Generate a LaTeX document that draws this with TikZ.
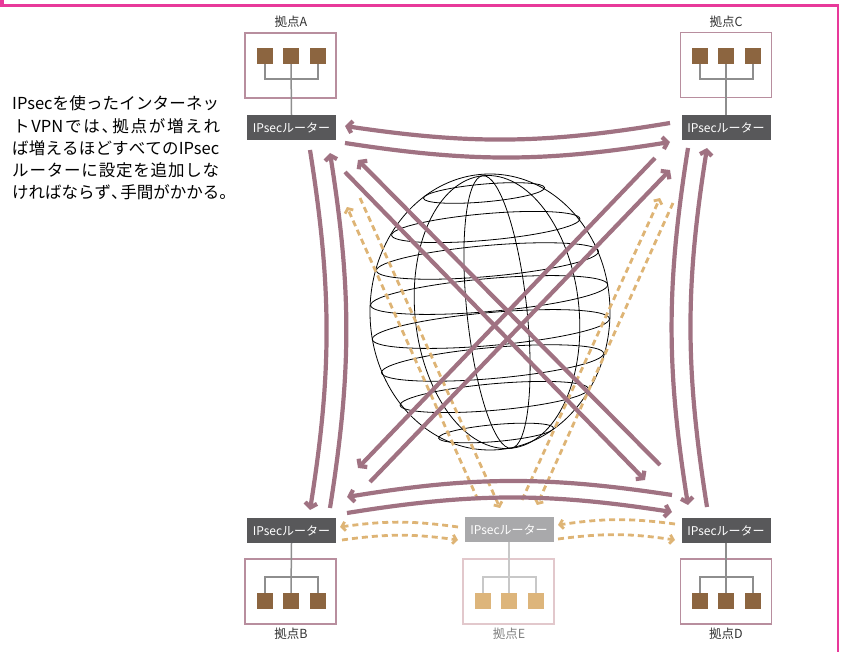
\documentclass[tikz,border=0pt]{standalone}
\usepackage{fontspec}
\setmainfont{Noto Sans CJK JP}
\usetikzlibrary{arrows.meta,calc}

\definecolor{framepink}{HTML}{E8399A}
\definecolor{mauve}{HTML}{A07282}
\definecolor{siteline}{HTML}{B88E9E}
\definecolor{hostbrown}{HTML}{8C6540}
\definecolor{wiregray}{HTML}{8E8E8E}
\definecolor{routergray}{HTML}{58585A}
\definecolor{routerlight}{HTML}{A9A9AB}
\definecolor{tanline}{HTML}{DEB475}
\definecolor{sitelineE}{HTML}{E2C8CC}
\definecolor{hostE}{HTML}{DDB57B}
\definecolor{wireE}{HTML}{C8C8C8}
\definecolor{labelgray}{HTML}{333333}

% spread the characters of one line evenly over the box width
\newcommand\jspread[1]{\jspreadA#1\relax}
\def\jspreadA#1{\ifx\relax#1\else#1\expandafter\jspreadB\fi}
\def\jspreadB#1{\ifx\relax#1\else\hfill#1\expandafter\jspreadB\fi}
% half-width punctuation
\newcommand\hpunct[1]{\makebox[0.55em][l]{#1}}

\tikzset{
  routerbox/.style={fill=routergray, text=white, minimum width=89pt, minimum height=25pt,
    inner sep=0pt, font=\fontsize{12}{12}\selectfont},
  sitebox/.style={draw=siteline, line width=1.5pt, minimum width=91pt, minimum height=65pt, inner sep=0pt},
  host/.style={fill=hostbrown, minimum size=16pt, inner sep=0pt},
  wire/.style={draw=wiregray, line width=1.5pt},
  sitelabel/.style={text=labelgray, font=\fontsize{12.5}{12.5}\selectfont, inner sep=0pt},
  textline/.style={anchor=west, inner sep=0pt, text=black, font=\fontsize{16.5}{16.5}\selectfont},
  marrow/.style={draw=mauve, line width=4.2pt, -{Straight Barb[length=4.5pt,width=12pt]}},
  tarrow/.style={draw=tanline, line width=2.8pt, dash pattern=on 6pt off 4pt,
    -{Straight Barb[length=3.5pt,width=9pt]}},
  globeline/.style={draw=black, line width=0.8pt},
}

\begin{document}
\begin{tikzpicture}[x=1pt, y=-1pt]
\useasboundingbox (0,0) rectangle (843,652);

% page frame
\fill[framepink] (0,0) rectangle (4,6.5);
\draw[framepink, line width=2.5pt] (0,5.5) -- (838,5.5) -- (838,652);

% explanatory text
\node[textline] (t1) at (12,103) {\makebox[207pt][l]{\jspread{{IPsec}を使ったインターネッ}}};
\node[textline] (t2) at (13,126) {\makebox[207pt][l]{\jspread{ト{VPN}では{\hpunct{、}}拠点が増えれ}}};
\node[textline] (t3) at (12,148) {\makebox[207pt][l]{\jspread{ば増えるほどすべての{IPsec}}}};
\node[textline] (t4) at (12,170) {\makebox[207pt][l]{\jspread{ルーターに設定を追加しな}}};
\node[textline] (t5) at (12,192) {\makebox[214pt][l]{\jspread{ければならず{\hpunct{、}}手間がかかる。}}};

% wireframe globe
\begin{scope}[globeline]
  \draw (490,312) ellipse [x radius=120pt, y radius=138pt];
  \draw[rotate around={6:(497,312)}] (497,312) ellipse [x radius=30pt, y radius=137pt];
  \draw[rotate around={6:(497,312)}] (497,312) ellipse [x radius=82pt, y radius=137pt];
  \foreach \yc/\a in {193/60.8, 227/94.5, 261/111.5, 295/119, 329/119, 363/111.5, 397/94.5, 433/57.7}{
    \pgfmathsetmacro\xc{490+0.05*(\yc-312)}
    \pgfmathsetmacro\b{0.13*\a+1}
    \draw[rotate around={5:(\xc,\yc)}] (\xc,\yc) ellipse [x radius=\a pt, y radius=\b pt];
  }
\end{scope}

% sites
\node[sitebox] (sA) at (290.5,65.5) {};
\node[sitebox] (sC) at (726,65) {};
\node[sitebox] (sB) at (290.5,591.5) {};
\node[sitebox] (sD) at (726,591.5) {};
\node[sitebox, draw=sitelineE] (sE) at (508.5,591.5) {};

\node[sitelabel] (lA) at (291,22) {拠点A};
\node[sitelabel] (lC) at (726,22) {拠点C};
\node[sitelabel] (lB) at (291,634) {拠点B};
\node[sitelabel] (lD) at (726,634) {拠点D};
\node[sitelabel, text=gray] (lE) at (509,634) {拠点E};

% routers
\node[routerbox] (rA) at (291.5,127.5) {IPsecルーター};
\node[routerbox] (rC) at (726,127.5) {IPsecルーター};
\node[routerbox] (rB) at (291.5,530.5) {IPsecルーター};
\node[routerbox] (rD) at (726,530.5) {IPsecルーター};
\node[routerbox, fill=routerlight] (rE) at (509,529.5) {IPsecルーター};

% hosts and their wiring
\foreach \s/\x/\y/\c in {a/291/56/hostbrown, c/726/56/hostbrown, b/291/601/hostbrown, d/726/601/hostbrown, e/509/601/hostE}{
  \node[host, fill=\c] (\s1) at (\x-26,\y) {};
  \node[host, fill=\c] (\s2) at (\x,\y) {};
  \node[host, fill=\c] (\s3) at (\x+27,\y) {};
}

\draw[wire] (a2.south) -- (rA.north);
\draw[wire] (a1.south) -- ++(0,15) -| (a3.south);
\draw[wire] (c2.south) -- (rC.north);
\draw[wire] (c1.south) -- ++(0,15) -| (c3.south);
\draw[wire] (rB.south) -- (b2.north);
\draw[wire] (b1.north) -- ++(0,-16) -| (b3.north);
\draw[wire] (rD.south) -- (d2.north);
\draw[wire] (d1.north) -- ++(0,-16) -| (d3.north);
\draw[wire, draw=wireE] (rE.south) -- (e2.north);
\draw[wire, draw=wireE] (e1.north) -- ++(0,-16) -| (e3.north);

% connector ends
\coordinate (tA1) at (345,126); \coordinate (tC1) at (670,123);
\coordinate (tA2) at (345,143); \coordinate (tC2) at (670,142);
\coordinate (bD1) at (672,495); \coordinate (bB1) at (347,497);
\coordinate (bB2) at (347,513); \coordinate (bD2) at (672,512);
\coordinate (lA1) at (310,150); \coordinate (lB1) at (310,510);
\coordinate (lB2) at (330,508); \coordinate (lA2) at (330,153);
\coordinate (rC1) at (688,148); \coordinate (rD1) at (688,505);
\coordinate (rD2) at (707,507); \coordinate (rC2) at (707,148);
\coordinate (dD1) at (660,465); \coordinate (dA1) at (358,160);
\coordinate (dA2) at (345,172); \coordinate (dD2) at (645,480);
\coordinate (dC1) at (655,158); \coordinate (dB1) at (358,468);
\coordinate (dB2) at (370,482); \coordinate (dC2) at (670,170);

\coordinate (eE1) at (458,527); \coordinate (eB1) at (340,527);
\coordinate (eB2) at (342,540); \coordinate (eE2) at (458,540);
\coordinate (eD1) at (675,524); \coordinate (eE3) at (558,525);
\coordinate (eE4) at (558,539); \coordinate (eD2) at (675,540);
\coordinate (fE1) at (478,500); \coordinate (fA1) at (347,207);
\coordinate (fA2) at (360,198); \coordinate (fE2) at (500,508);
\coordinate (fE3) at (522,500); \coordinate (fC1) at (660,198);
\coordinate (fC2) at (673,203); \coordinate (fE4) at (537,505);

% dashed links to site E
\draw[tarrow] (eE1) to[bend right=8] (eB1);
\draw[tarrow] (eB2) to[bend left=8] (eE2);
\draw[tarrow] (eD1) to[bend right=8] (eE3);
\draw[tarrow] (eE4) to[bend left=8] (eD2);
\draw[tarrow] (fE1) -- (fA1);
\draw[tarrow] (fA2) -- (fE2);
\draw[tarrow] (fE3) -- (fC1);
\draw[tarrow] (fC2) -- (fE4);

% full mesh between A, B, C, D
\draw[marrow] (tC1) to[bend left=9] (tA1);
\draw[marrow] (tA2) to[bend right=9] (tC2);
\draw[marrow] (bD1) to[bend right=9] (bB1);
\draw[marrow] (bB2) to[bend left=9] (bD2);
\draw[marrow] (lA1) to[bend left=9] (lB1);
\draw[marrow] (lB2) to[bend right=9] (lA2);
\draw[marrow] (rC1) to[bend right=9] (rD1);
\draw[marrow] (rD2) to[bend left=9] (rC2);
\draw[marrow] (dD1) -- (dA1);
\draw[marrow] (dA2) -- (dD2);
\draw[marrow] (dC1) -- (dB1);
\draw[marrow] (dB2) -- (dC2);
\end{tikzpicture}
\end{document}
